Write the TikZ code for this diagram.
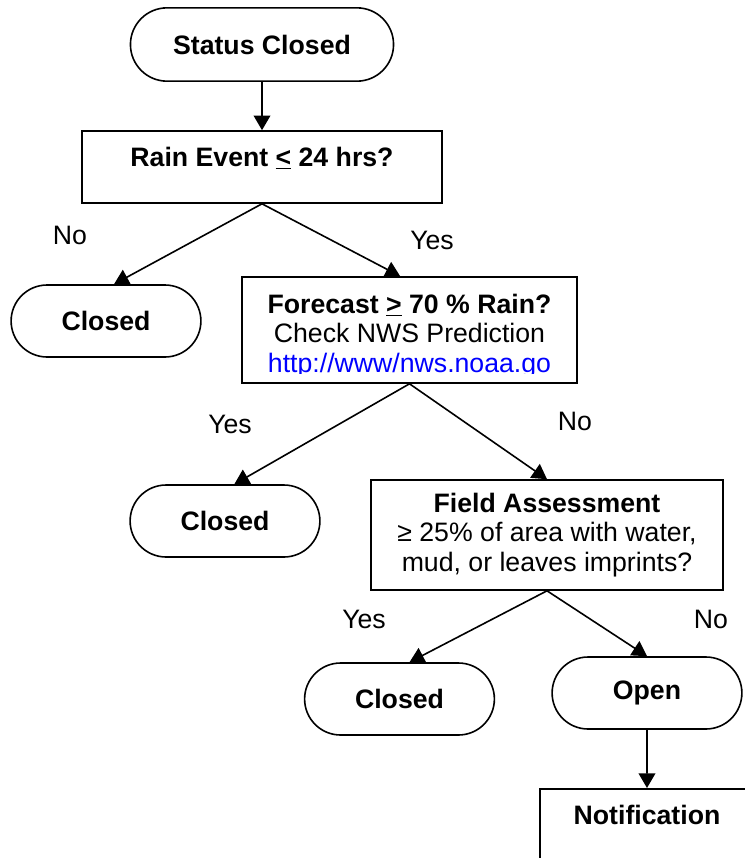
\documentclass[tikz,border=0pt]{standalone}
\usepackage{fontspec}
\setmainfont{Liberation Sans}
\usepackage{tikz}
\usetikzlibrary{arrows.meta,shapes.misc}
\definecolor{linkblue}{RGB}{0,0,255}
\newcommand{\chartfont}{\fontsize{20}{22}\selectfont}

\begin{document}
\begin{tikzpicture}[x=0.75pt,y=-0.75pt,
  stad/.style = {draw, rounded rectangle, minimum width=149pt, minimum height=54pt, font=\chartfont\bfseries},
  box/.style = {draw, rectangle, align=center, font=\chartfont},
  lbl/.style = {font=\chartfont},
  line width=1.2pt, >={Triangle[length=11pt,width=12.5pt]}]
\useasboundingbox (0,0) rectangle (744,858);
        \node[stad, minimum width=204pt, minimum height=55pt] (1) at (262,44.5) {Status Closed};
        \node[box, minimum width=270pt, minimum height=54pt, text depth=15pt, font=\chartfont\bfseries] (2) at (262,167) {Rain Event \underline{<} 24 hrs?};
        \node[stad] (3) at (106,321) {Closed};
        \node[box, minimum width=251pt, minimum height=79.5pt] (4) at (409.5,330)
          {\rule{0pt}{18.5pt}\textbf{Forecast \underline{>} 70 \% Rain?}\\ Check NWS Prediction\\ \mbox{}};
        \begin{scope}
          \clip ([yshift=8pt]4.south west) rectangle (4.north east);
          \node[lbl, text=linkblue, anchor=base] (url) at ([yshift=8.25pt]4.south) {http://www/nws.noaa.go};
        \end{scope}
        \node[stad] (5) at (225,521) {Closed};
        \node[box, minimum width=264pt, minimum height=82.5pt] (6) at (547,535)
          {\textbf{Field Assessment}\\ ≥ 25\% of area with water,\\ mud, or leaves imprints?};
        \node[stad] (7) at (399.5,699) {Closed};
        \node[stad] (8) at (647,693) {Open};
        \node[box, minimum width=160.5pt, text height=14pt, text depth=70pt, inner ysep=12.75pt, font=\chartfont\bfseries, anchor=north] (9) at (647,788) {Notification};
        % branch labels
        \node[lbl] (no1) at (70,235) {No};
        \node[lbl] (yes1) at (432,240) {Yes};
        \node[lbl] (yes2) at (230,424) {Yes};
        \node[lbl] (no2) at (575,421) {No};
        \node[lbl] (yes3) at (364,619) {Yes};
        \node[lbl] (no3) at (711,619) {No};
        \draw[->] (1) -- (2);
        \draw[->] (2.south) -- ([xshift=6pt]3.north);
        \draw[->] (2.south) -- ([xshift=-7pt]4.north);
        \draw[->] (4.south) -- ([xshift=7pt]5.north);
        \draw[->] (4.south) -- (6.north);
        \draw[->] (6.south) -- ([xshift=7.5pt]7.north);
        \draw[->] (6.south) -- (8.north);
        \draw[->] (8) -- (9);
\end{tikzpicture}
\end{document}
